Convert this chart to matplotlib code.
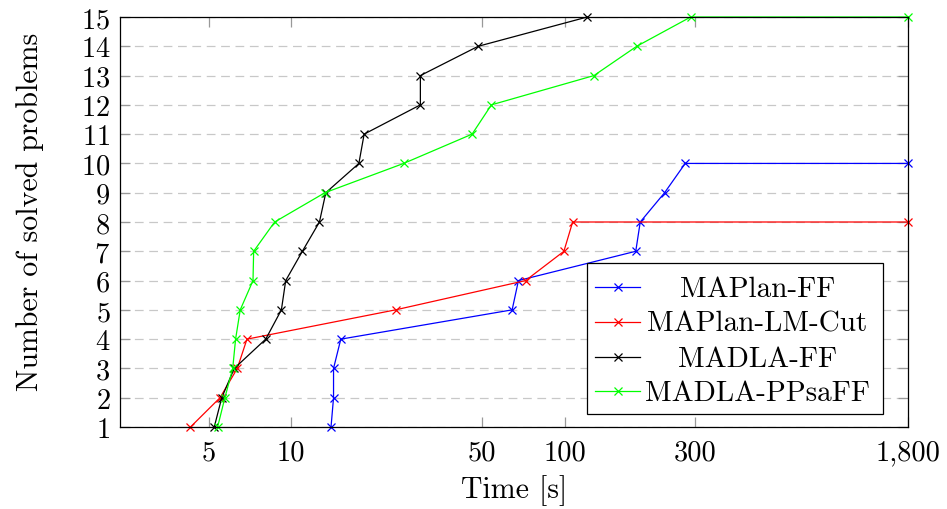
import matplotlib
matplotlib.use('Agg')
import matplotlib.pyplot as plt
from matplotlib.ticker import FixedLocator, FixedFormatter, NullLocator
from matplotlib.patches import Rectangle
from matplotlib.lines import Line2D

plt.rcParams['font.family'] = ['cmr10', 'DejaVu Serif']
plt.rcParams['axes.formatter.use_mathtext'] = True

# solve times [s] and number of solved problems
maplan_ff_t = [14.0, 14.3, 14.3, 15.2, 64.3, 67.8, 182, 189, 232, 276, 1800]
maplan_ff_n = [1, 2, 3, 4, 5, 6, 7, 8, 9, 10, 10]

maplan_lm_t = [4.29, 5.5, 6.36, 6.9, 24.1, 72, 99.4, 107, 1800]
maplan_lm_n = [1, 2, 3, 4, 5, 6, 7, 8, 8]

madla_ff_t = [5.24, 5.58, 6.2, 8.08, 9.22, 9.56, 11.0, 12.7, 13.4, 17.7, 18.5,
              29.7, 29.7, 48.3, 121]
madla_ff_n = [1, 2, 3, 4, 5, 6, 7, 8, 9, 10, 11, 12, 13, 14, 15]

madla_pp_t = [5.39, 5.73, 6.12, 6.27, 6.52, 7.26, 7.3, 8.71, 13.3, 25.8, 45.9,
              54.0, 128, 183.5, 289, 1800]
madla_pp_n = [1, 2, 3, 4, 5, 6, 7, 8, 9, 10, 11, 12, 13, 14, 15, 15]

series_names = ["MAPlan-FF", "MAPlan-LM-Cut", "MADLA-FF", "MADLA-PPsaFF"]
series_colors = ["#0000ff", "#ff0000", "#000000", "#00ff00"]

x_ticks = [5, 10, 50, 100, 300, 1800]
x_tick_labels = ["5", "10", "50", "100", "300", "1,800"]
y_ticks = list(range(1, 16))

FS_TICK = 20.5
FS_LABEL = 21.5
FS_LEG = 21

fig = plt.figure(figsize=(9.47, 5.1), dpi=100)
ax = fig.add_axes([120 / 947, 1 - 428 / 510, 788 / 947, 410 / 510])

data = [(maplan_ff_t, maplan_ff_n), (maplan_lm_t, maplan_lm_n),
        (madla_ff_t, madla_ff_n), (madla_pp_t, madla_pp_n)]
for (t, n), name, c in zip(data, series_names, series_colors):
    ax.plot(t, n, color=c, lw=0.9, marker='x', ms=6, mew=0.9,
            clip_on=False, zorder=3, label=name)

ax.set_xscale('log')
ax.set_xlim(2.37, 1800)
ax.set_ylim(1, 15)
ax.xaxis.set_major_locator(FixedLocator(x_ticks))
ax.xaxis.set_major_formatter(FixedFormatter(x_tick_labels))
ax.xaxis.set_minor_locator(NullLocator())
ax.set_yticks(y_ticks)

ax.grid(axis='y', ls=(0, (7, 4.5)), color='#c8c8c8', lw=0.9, zorder=1)
ax.tick_params(which='both', direction='in', top=True, right=True,
               length=7, width=0.9, color='#999999', labelsize=FS_TICK)
ax.tick_params(axis='x', pad=9)
ax.tick_params(axis='y', pad=7)
for s in ax.spines.values():
    s.set_linewidth(0.9)
    s.set_zorder(4)

ax.set_xlabel("Time [s]", fontsize=FS_LABEL)
ax.xaxis.label.set_va('center')
ax.xaxis.set_label_coords(0.5, -0.152)
ax.set_ylabel("Number of solved problems", fontsize=FS_LABEL)
ax.yaxis.label.set_va('center')
ax.yaxis.set_label_coords(-0.114, 0.527)

# legend drawn by hand so the entries are centred like pgfplots
W, H = 947, 510
fig.patches.append(Rectangle((587 / W, 1 - 415 / H), 296 / W, 151 / H,
                             transform=fig.transFigure, facecolor='white',
                             edgecolor='black', lw=0.9, zorder=10))
row_y = [287.5, 322.5, 357.5, 392.0]
for name, c, yy in zip(series_names, series_colors, row_y):
    fy = 1 - yy / H
    fig.lines.append(Line2D([595 / W, 640 / W], [fy, fy], transform=fig.transFigure,
                            color=c, lw=0.9, zorder=11))
    fig.lines.append(Line2D([617.5 / W], [fy], transform=fig.transFigure,
                            color=c, marker='x', ms=6, mew=0.9, zorder=11))
    fig.text(757.5 / W, 1 - (yy + 9.5) / H, name, ha='center', va='baseline',
             fontsize=FS_LEG, zorder=12)

fig.savefig("out.png", dpi=100)
